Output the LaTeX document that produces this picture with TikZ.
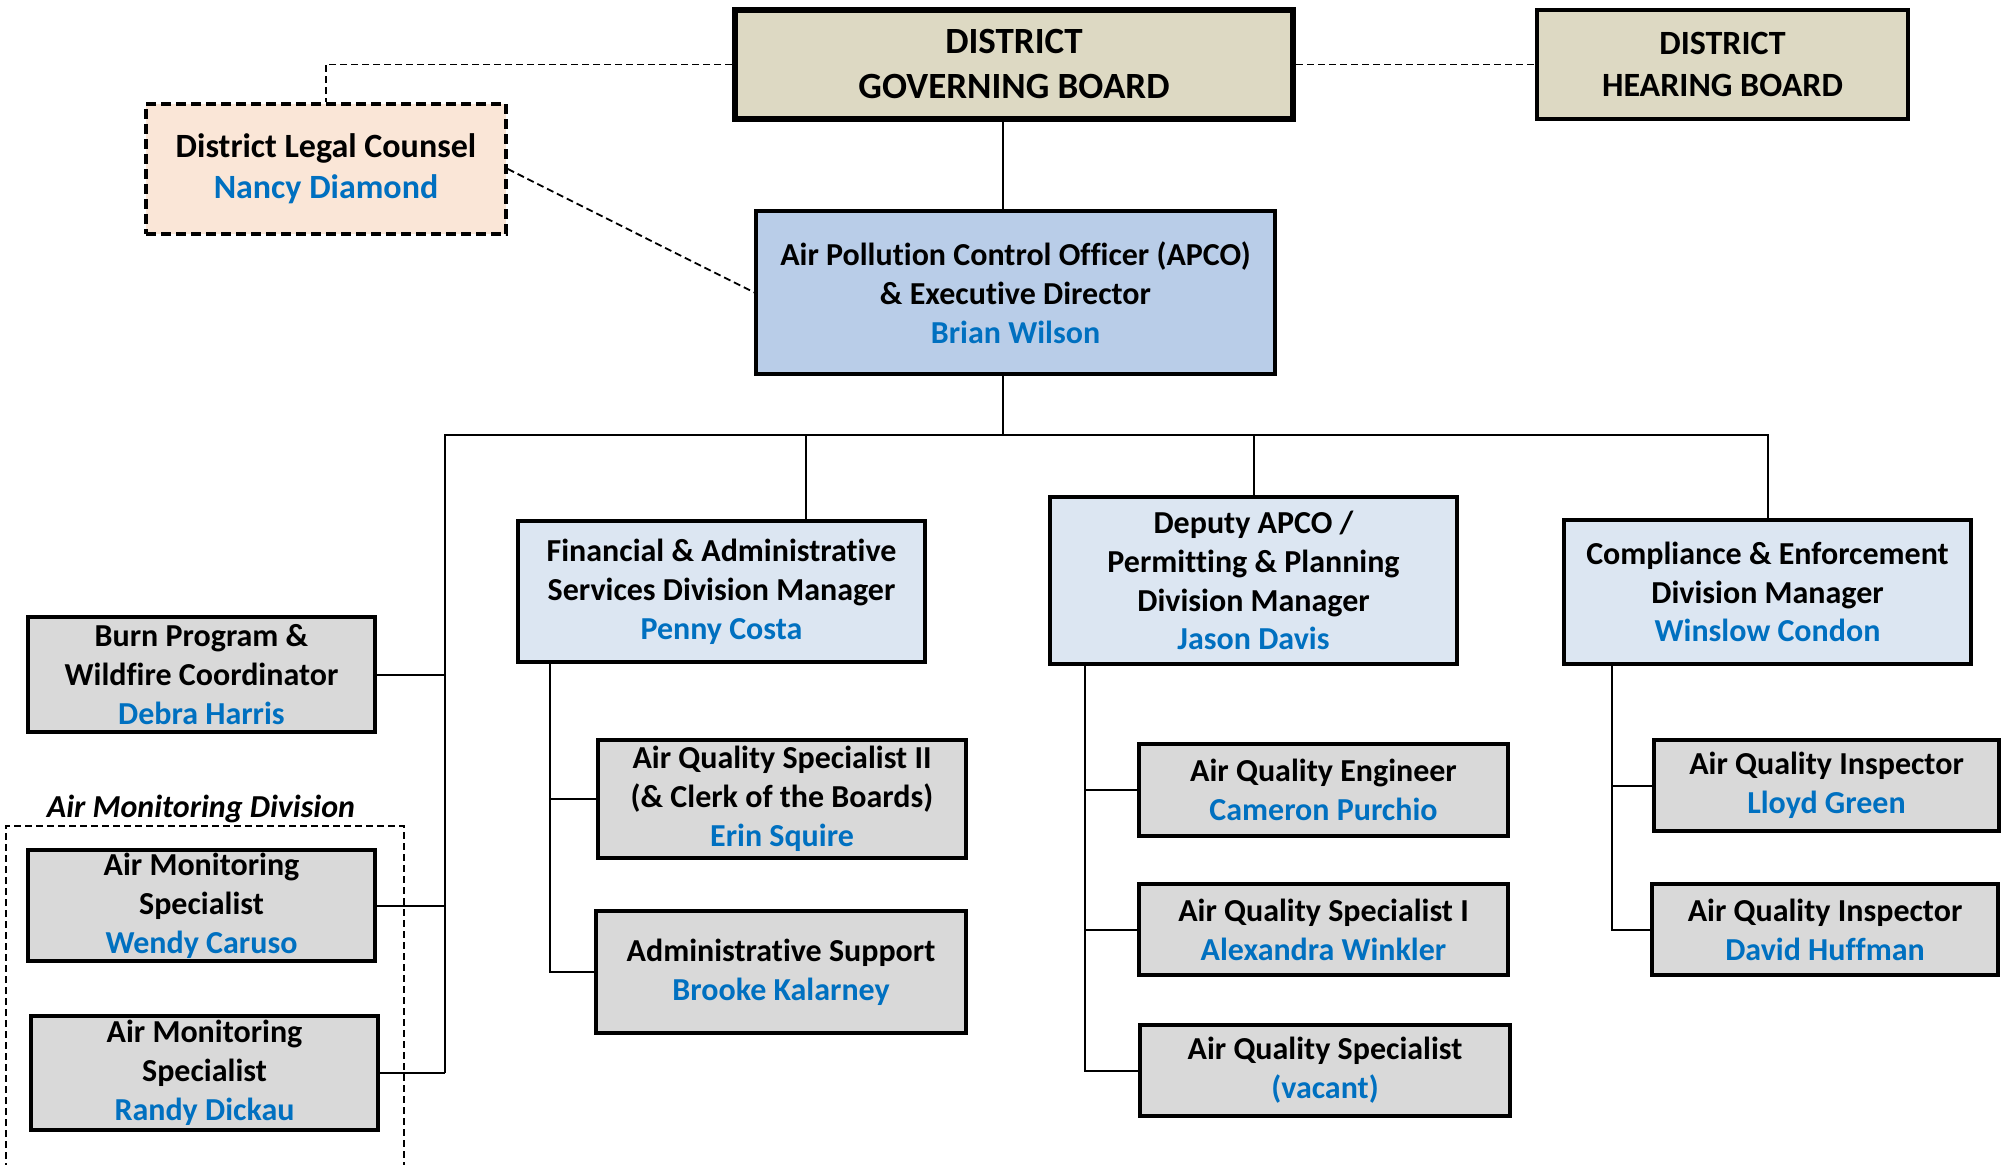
\documentclass[tikz,border=0pt]{standalone}
\usepackage{fontspec}
\setmainfont{Carlito}[Ligatures=NoCommon]

\definecolor{nameblue}{HTML}{0070C0}
\definecolor{boardtan}{HTML}{DDD9C3}
\definecolor{apcoblue}{HTML}{B9CDE8}
\definecolor{leadblue}{HTML}{DCE6F2}
\definecolor{staffgrey}{HTML}{D9D9D9}
\definecolor{counselpeach}{HTML}{FAE6D7}

\newcommand{\who}[1]{\textcolor{nameblue}{#1}}

\tikzset{
    box/.style={draw, line width=1.75pt, align=center, inner sep=0pt,
        font=\bfseries\fontsize{16}{19.4}\selectfont,
        execute at begin node={\rule{0pt}{14.4pt}}},
    board/.style={box, fill=boardtan},
    lead/.style={box, fill=leadblue},
    staff/.style={box, fill=staffgrey},
    link/.style={line width=1pt},
    dashlink/.style={line width=0.9pt, dash pattern=on 3.5pt off 2pt},
}

\begin{document}
\begin{tikzpicture}[x=0.5pt, y=-0.5pt]
                \useasboundingbox (0,0) rectangle (2007,1165);

                \node[board, line width=3pt, minimum width=279pt, minimum height=54.5pt,
                    font=\bfseries\fontsize{18.5}{22.5}\selectfont] (gov) at (1014,64.5) {DISTRICT\\GOVERNING BOARD};
                \node[board, line width=2pt, minimum width=185.5pt, minimum height=54.5pt,
                    font=\bfseries\fontsize{17}{21}\selectfont] (hear) at (1722.5,64.5) {DISTRICT\\HEARING BOARD};
                \node[box, fill=counselpeach, dash pattern=on 5pt off 2.5pt, minimum width=180pt, minimum height=65pt,
                    font=\bfseries\fontsize{17}{20.5}\selectfont] (legal) at (326,169) {District Legal Counsel\\\who{Nancy Diamond}};
                \node[box, fill=apcoblue, minimum width=259.5pt, minimum height=81.5pt] (apco) at (1015.5,292.5)
                    {Air Pollution Control Officer (APCO)\\\& Executive Director\\\who{Brian Wilson}};

                \node[lead, minimum width=203.5pt, minimum height=70.5pt] (fin) at (721.5,591.5)
                    {Financial \& Administrative\\Services Division Manager\\\who{Penny Costa}};
                \node[lead, minimum width=203.5pt, minimum height=83.5pt] (dep) at (1253.5,580.5)
                    {Deputy APCO /\\Permitting \& Planning\\Division Manager\\\who{Jason Davis}};
                \node[lead, minimum width=203.5pt, minimum height=72pt] (comp) at (1767.5,592)
                    {Compliance \& Enforcement\\Division Manager\\\who{Winslow Condon}};

                \node[staff, minimum width=173.5pt, minimum height=57.5pt] (burn) at (201.5,674.5)
                    {Burn Program \&\\Wildfire Coordinator\\\who{Debra Harris}};
                \node[font=\bfseries\itshape\fontsize{16}{19.4}\selectfont] (amdlabel) at (201,809) {Air Monitoring Division};
                \node[staff, minimum width=173.5pt, minimum height=55.5pt] (amsA) at (201.5,905.5)
                    {Air Monitoring\\Specialist\\\who{Wendy Caruso}};
                \node[staff, minimum width=173.5pt, minimum height=57pt] (amsB) at (204.5,1073)
                    {Air Monitoring\\Specialist\\\who{Randy Dickau}};

                \node[staff, minimum width=184pt, minimum height=59pt] (aqsII) at (782,799)
                    {Air Quality Specialist II\\(\& Clerk of the Boards)\\\who{Erin Squire}};
                \node[staff, minimum width=185pt, minimum height=61pt] (adm) at (781,972)
                    {Administrative Support\\\who{Brooke Kalarney}};

                \node[staff, minimum width=184.5pt, minimum height=46pt] (aqe) at (1323.5,790)
                    {Air Quality Engineer\\\who{Cameron Purchio}};
                \node[staff, minimum width=184.5pt, minimum height=45.5pt] (aqsI) at (1323.5,929.5)
                    {Air Quality Specialist I\\\who{Alexandra Winkler}};
                \node[staff, minimum width=185pt, minimum height=45.5pt] (aqsv) at (1325,1070.5)
                    {Air Quality Specialist\\\who{(vacant)}};

                \node[staff, minimum width=172.5pt, minimum height=45.5pt] (aqiA) at (1826.5,785.5)
                    {Air Quality Inspector\\\who{Lloyd Green}};
                \node[staff, minimum width=173pt, minimum height=45.5pt] (aqiB) at (1825,929.5)
                    {Air Quality Inspector\\\who{David Huffman}};

                \coordinate (hub) at (1003,435);
                \coordinate (bus) at (445,435);
                \coordinate (finup) at (806,435);
                \coordinate (finx) at (550,0);
                \coordinate (depx) at (1085,0);
                \coordinate (compx) at (1612,0);

                \draw[dashlink] (gov) -| (legal);
                \draw[dashlink] (gov) -- (hear);
                \draw[dashlink] (legal.east) -- (apco.west);
                \draw[dashlink] (6,1170) -- (6,826) -- (404,826) -- (404,1170);

                \draw[link] (gov.south -| hub) -- (apco.north -| hub);
                \draw[link] (apco.south -| hub) -- (hub);
                \draw[link] (bus |- amsB.east) -- (bus) -| (comp);
                \draw[link] (finup) -- (finup |- fin.north);
                \draw[link] (dep) -- (dep |- hub);
                \draw[link] (burn) -- (burn -| bus);
                \draw[link] (amsA) -- (amsA -| bus);
                \draw[link] (amsB) -- (amsB -| bus);

                \draw[link] (fin.south -| finx) |- (adm);
                \draw[link] (aqsII) -- (aqsII -| finx);
                \draw[link] (dep.south -| depx) |- (aqsv);
                \draw[link] (aqe) -- (aqe -| depx);
                \draw[link] (aqsI) -- (aqsI -| depx);
                \draw[link] (comp.south -| compx) |- (aqiB);
                \draw[link] (aqiA) -- (aqiA -| compx);
            \end{tikzpicture}
\end{document}
